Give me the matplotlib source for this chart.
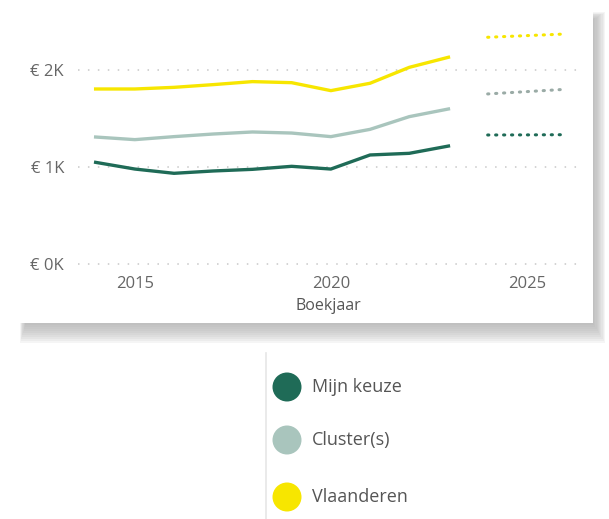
import numpy as np
import matplotlib
matplotlib.use("Agg")
import matplotlib.pyplot as plt
from matplotlib.patches import Rectangle, Circle

plt.rcParams['font.family'] = ['Open Sans', 'DejaVu Sans']

# data
jaren = [2014, 2015, 2016, 2017, 2018, 2019, 2020, 2021, 2022, 2023]
mijn_keuze = [1048, 979, 935, 959, 976, 1007, 979, 1124, 1141, 1216]
cluster = [1309, 1282, 1313, 1340, 1361, 1350, 1313, 1388, 1519, 1598]
vlaanderen = [1804, 1804, 1821, 1849, 1880, 1869, 1787, 1863, 2027, 2131]

proj_jaren = [2024, 2025, 2026]
proj_mijn = [1330, 1331, 1333]
proj_cluster = [1753, 1777, 1801]
proj_vlaanderen = [2337, 2354, 2371]

reeksen = ["Mijn keuze", "Cluster(s)", "Vlaanderen"]
kleuren = ["#1f6b57", "#a9c5bd", "#f7e600"]

yticks = [0, 1000, 2000]
ytick_labels = ["€ 0K", "€ 1K", "€ 2K"]
xticks = [2015, 2020, 2025]

W, H = 609, 519
fig = plt.figure(figsize=(W / 100, H / 100), dpi=100)
fig.patch.set_facecolor("white")


def box(x0, y0, x1, y1):
    # pixel box (top-left origin) -> figure fraction
    return [x0 / W, 1 - y1 / H, (x1 - x0) / W, (y1 - y0) / H]


# card shadow
for i in range(10):
    l, b, w, h = box(20 + i * 0.6, 12 + i * 0.8, 593 + 12 - i * 1.2, 323 + 20 - i * 2.0)
    fig.patches.append(Rectangle((l, b), w, h, transform=fig.transFigure,
                                 facecolor="#a8a8a8", alpha=0.11, edgecolor="none", zorder=0))
l, b, w, h = box(20, 12, 593, 323)
fig.patches.append(Rectangle((l, b), w, h, transform=fig.transFigure,
                             facecolor="white", edgecolor="none", zorder=1))

# chart
ax = fig.add_axes(box(78, 20, 579, 275))
ax.set_facecolor("none")
ax.set_zorder(2)
ax.set_xlim(2013.55, 2026.33)
ax.set_ylim(-113, 2515)

for v in yticks:
    ax.axhline(v, color="#c8c8c8", lw=1.1, linestyle=(0, (1, 5.5)), zorder=1)

for vals, proj, kleur in zip([vlaanderen, cluster, mijn_keuze],
                             [proj_vlaanderen, proj_cluster, proj_mijn],
                             [kleuren[2], kleuren[1], kleuren[0]]):
    ax.plot(jaren, vals, color=kleur, lw=2.4, solid_joinstyle="round", zorder=3)
    ax.plot(proj_jaren, proj, color=kleur if kleur != kleuren[1] else "#9aaba6",
            lw=2.2, linestyle=(0, (0.4, 2.2)), dash_capstyle="round", zorder=3)

ax.set_yticks(yticks)
ax.set_yticklabels(ytick_labels)
ax.set_xticks(xticks)
ax.tick_params(axis="both", length=0, colors="#666666", labelsize=12)
ax.tick_params(axis="y", pad=10)
ax.tick_params(axis="x", pad=1)
for s in ax.spines.values():
    s.set_visible(False)
ax.set_xlabel("Boekjaar", fontsize=11.5, color="#555555", labelpad=4)

# legend
fig.add_artist(plt.Line2D([266 / W, 266 / W], [0, 1 - 353 / H], transform=fig.transFigure,
                          color="#e6e6e6", lw=1.2))
for naam, kleur, yc in zip(reeksen, kleuren, [387, 440, 497]):
    fig.patches.append(Circle((287, H - yc), 14.5, transform=None,
                              facecolor=kleur, edgecolor="none"))
    fig.text(312 / W, 1 - yc / H, naam, fontsize=13, color="#555555",
             va="center", ha="left")

fig.savefig("out.png", dpi=100)
